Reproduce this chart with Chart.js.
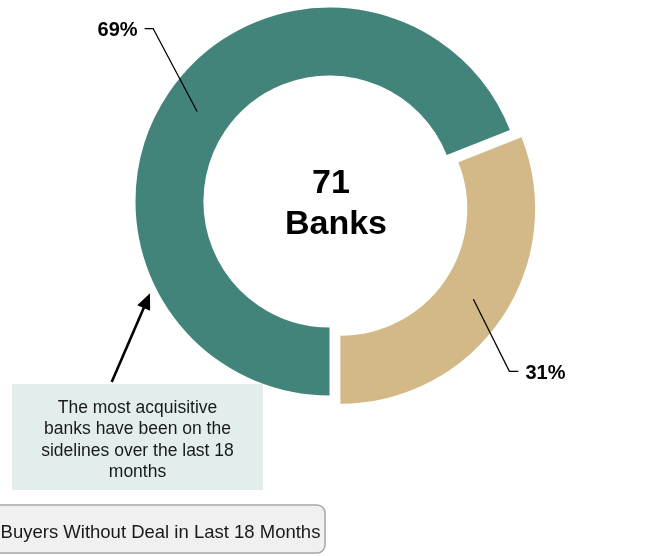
<!DOCTYPE html>
<html><head><meta charset="utf-8">
<script src="https://cdn.jsdelivr.net/npm/chart.js@4/dist/chart.umd.min.js"></script>
<style>html,body{margin:0;padding:0;background:#fff;overflow:hidden}#wrap{position:relative;width:646px;height:556px}</style>
</head><body><div id="wrap"><canvas id="c" width="646" height="556"></canvas></div>
<script>
const categories = ['Buyers Without Deal in Last 18 Months', 'Buyers With Deal in Last 18 Months'];
const shares = [69, 31];
const shareLabels = ['69%', '31%'];
const centerLines = ['71', 'Banks'];
const annotationLines = ['The most acquisitive', 'banks have been on the', 'sidelines over the last 18', 'months'];
const legendText = 'Buyers Without Deal in Last 18 Months';
const sliceColors = ['#428479', '#d4b988'];
const sliceOffsets = [0, 52];

const FONT = '"Liberation Sans", Arial, Helvetica, sans-serif';
const leaderStyle = [
  {dx: -44, dy: -83, h: -8.5},
  {dx: 36, dy: 72, h: 9}
];

const overlay = {
  id: 'overlay',
  afterDraw(chart) {
    const ctx = chart.ctx;
    const meta = chart.getDatasetMeta(0);
    const c0 = meta.data[0];
    ctx.save();
    // center text
    ctx.fillStyle = '#000';
    ctx.font = 'bold 34px ' + FONT;
    ctx.textAlign = 'center';
    ctx.textBaseline = 'alphabetic';
    ctx.fillText(centerLines[0], c0.x + 1.5, c0.y - 8.5);
    ctx.fillText(centerLines[1], c0.x + 6.5, c0.y + 32.5);

    // leader lines + percentage labels
    meta.data.forEach((arc, i) => {
      const p = arc.getProps(['x', 'y', 'startAngle', 'endAngle', 'innerRadius', 'outerRadius'], true);
      const mid = (p.startAngle + p.endAngle) / 2;
      const circ = p.endAngle - p.startAngle;
      const off = (arc.options.offset || 0) / 4;
      const t = off * (1 + (1 - Math.sin(Math.min(Math.PI, circ))));
      const cx = p.x + Math.cos(mid) * t, cy = p.y + Math.sin(mid) * t;
      const r = (p.innerRadius + p.outerRadius) / 2;
      const ax = cx + Math.cos(mid) * r, ay = cy + Math.sin(mid) * r;
      const L = leaderStyle[i];
      const ex = ax + L.dx, ey = ay + L.dy;
      const hx = ex + L.h;
      ctx.strokeStyle = '#000';
      ctx.lineWidth = 1.3;
      ctx.beginPath();
      ctx.moveTo(ax, ay);
      ctx.lineTo(ex, ey);
      ctx.lineTo(hx, ey);
      ctx.stroke();
      ctx.font = 'bold 20px ' + FONT;
      ctx.textAlign = L.h < 0 ? 'right' : 'left';
      ctx.fillText(shareLabels[i], hx + (L.h < 0 ? -7 : 7), ey + 7.4);
    });

    // annotation box
    ctx.fillStyle = '#e3eeec';
    ctx.fillRect(12, 384, 251, 106);
    ctx.fillStyle = '#1a1a1a';
    ctx.font = '17.5px ' + FONT;
    ctx.textAlign = 'center';
    annotationLines.forEach((ln, k) => ctx.fillText(ln, 137.5, 412.5 + k * 21.5));

    // arrow
    const x1 = 111.7, y1 = 382, x2 = 150, y2 = 293.3;
    const ang = Math.atan2(y2 - y1, x2 - x1);
    const hl = 16, hw = 7;
    ctx.strokeStyle = '#000';
    ctx.fillStyle = '#000';
    ctx.lineWidth = 2.6;
    ctx.beginPath();
    ctx.moveTo(x1, y1);
    ctx.lineTo(x2 - Math.cos(ang) * (hl - 2), y2 - Math.sin(ang) * (hl - 2));
    ctx.stroke();
    ctx.beginPath();
    ctx.moveTo(x2, y2);
    ctx.lineTo(x2 - Math.cos(ang) * hl + Math.sin(ang) * hw, y2 - Math.sin(ang) * hl - Math.cos(ang) * hw);
    ctx.lineTo(x2 - Math.cos(ang) * hl - Math.sin(ang) * hw, y2 - Math.sin(ang) * hl + Math.cos(ang) * hw);
    ctx.closePath();
    ctx.fill();

    // legend-like box
    ctx.beginPath();
    ctx.roundRect(-10, 505, 335, 48, 8);
    ctx.fillStyle = '#f0f0f0';
    ctx.fill();
    ctx.strokeStyle = '#a6a6a6';
    ctx.lineWidth = 1.5;
    ctx.stroke();
    ctx.fillStyle = '#1a1a1a';
    ctx.font = '18.5px ' + FONT;
    ctx.textAlign = 'center';
    ctx.fillText(legendText, 160.5, 538.3);
    ctx.restore();
  }
};

new Chart(document.getElementById('c'), {
  type: 'doughnut',
  data: {
    labels: categories,
    datasets: [{
      label: 'Banks',
      data: shares,
      backgroundColor: sliceColors,
      borderWidth: 0,
      offset: sliceOffsets,
      hoverOffset: 0
    }]
  },
  options: {
    responsive: false,
    animation: false,
    events: [],
    rotation: 180,
    radius: 194,
    cutout: '65%',
    layout: {padding: {left: 13, right: 0, top: 0, bottom: 153}},
    plugins: {legend: {display: false}, tooltip: {enabled: false}}
  },
  plugins: [overlay]
});
</script>
</body></html>
